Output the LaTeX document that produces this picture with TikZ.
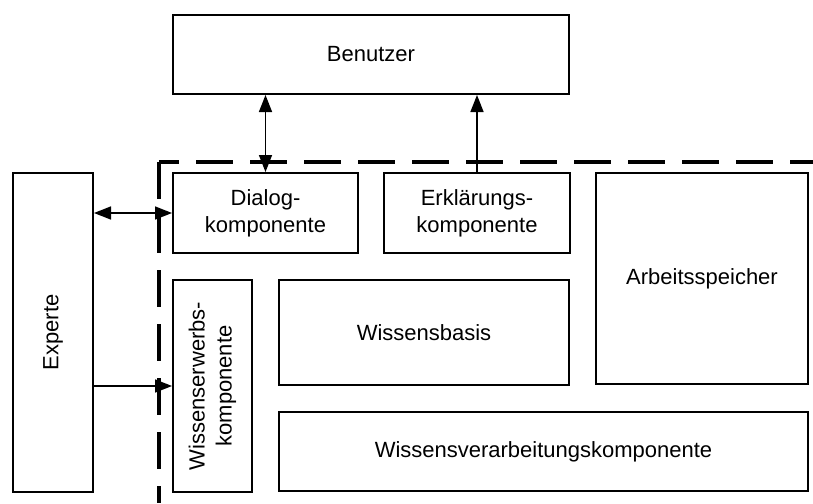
\documentclass[tikz,border=0pt]{standalone}
\usepackage{fontspec}
\setmainfont{Liberation Sans}
\usetikzlibrary{arrows.meta}

\tikzset{
  box/.style={draw=black, line width=2pt, fill=white, rectangle, inner sep=0pt,
    align=center, font=\fontsize{22}{27}\selectfont, text=black},
  label/.style={rotate=90, align=center, font=\fontsize{22}{27}\selectfont, text=black},
  link/.style={line width=1.6pt, draw=black},
  tip/.style={-{Triangle[length=17pt,width=13pt]}},
  tips/.style={{Triangle[length=17pt,width=13pt]}-{Triangle[length=17pt,width=13pt]}},
  border/.style={line width=3.5pt, draw=black, dash pattern=on 37pt off 17pt}
}

\begin{document}
\begin{tikzpicture}[x=1pt, y=-1pt]
  \useasboundingbox (0,0) rectangle (813,503);

  % system boundary (dashed)
  \coordinate (corner) at (159,162);
  \coordinate (rightend) at (813,162);
  \coordinate (bottomend) at (159,503);
  \draw[border] (corner) -- (bottomend);
  \draw[border, dash phase=17pt] (corner) -- (rightend);

  % components
  \node[box, minimum width=396pt, minimum height=79pt] (benutzer) at (371,54.5) {Benutzer};
  \node[box, minimum width=80pt, minimum height=319pt] (experte) at (53,332.5) {};
  \node[label] (expertetext) at (experte.center) {Experte};
  \node[box, minimum width=185pt, minimum height=80pt] (dialog) at (265.5,213) {Dialog-\\komponente};
  \node[box, minimum width=186pt, minimum height=80pt] (erkl) at (477,213) {Erklärungs-\\komponente};
  \node[box, minimum width=212pt, minimum height=211pt] (arbeit) at (702,278.5) {Arbeitsspeicher};
  \node[box, minimum width=79pt, minimum height=212pt] (erwerb) at (212.5,386) {};
  \node[label] (erwerbtext) at (erwerb.center) {Wissenserwerbs-\\komponente};
  \node[box, minimum width=290pt, minimum height=105pt] (basis) at (424,332.5) {Wissensbasis};
  \node[box, minimum width=529pt, minimum height=79pt] (verarb) at (543.5,451.5) {Wissensverarbeitungskomponente};

  % connectors
  \draw[link, tips] (benutzer.south -| dialog.north) -- (dialog.north);
  \draw[link, tip] (erkl.north) -- (benutzer.south -| erkl.north);
  \draw[link, tips] (experte.east |- dialog.west) -- (dialog.west);
  \draw[link, tip] (experte.east |- erwerb.west) -- (erwerb.west);
\end{tikzpicture}
\end{document}
